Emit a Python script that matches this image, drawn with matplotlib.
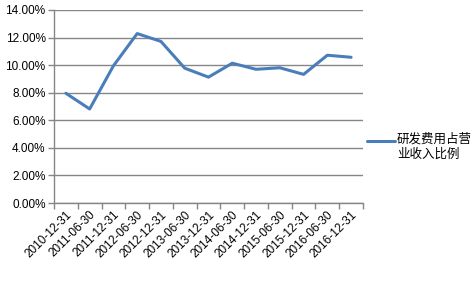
import matplotlib
matplotlib.use("Agg")
import matplotlib.pyplot as plt
from matplotlib.ticker import FuncFormatter, MultipleLocator
from matplotlib.legend_handler import HandlerLine2D

categories = ["2010-12-31", "2011-06-30", "2011-12-31", "2012-06-30", "2012-12-31",
              "2013-06-30", "2013-12-31", "2014-06-30", "2014-12-31", "2015-06-30",
              "2015-12-31", "2016-06-30", "2016-12-31"]
values = [7.96, 6.82, 9.95, 12.29, 11.72, 9.78, 9.13, 10.14, 9.70, 9.81, 9.33, 10.72, 10.57]
series_name = "研发费用占营\n业收入比例"

plt.rcParams['font.family'] = ['Liberation Sans', 'Noto Sans CJK SC', 'DejaVu Sans']

fig = plt.figure(figsize=(4.73, 2.81), dpi=100)
ax = fig.add_axes([54/473, 1-203/281, (363-54)/473, (203-10)/281])

x = list(range(len(categories)))
line, = ax.plot(x, values, color='#4a7ebb', lw=2.2, solid_capstyle='round', label=series_name)

ax.set_xlim(-0.5, len(categories)-0.5)
ax.set_ylim(0, 14)
ax.yaxis.set_major_locator(MultipleLocator(2))
ax.yaxis.set_major_formatter(FuncFormatter(lambda v, p: f"{v:.2f}%"))
ax.grid(axis='y', color='#868686', lw=1)
ax.set_axisbelow(True)
for s in ['top', 'right']:
    ax.spines[s].set_visible(False)
for s in ['left', 'bottom']:
    ax.spines[s].set_color('#868686')
    ax.spines[s].set_linewidth(1)

ax.set_xticks(x)
ax.set_xticklabels(categories, rotation=45, ha='right', rotation_mode='anchor', fontsize=8.5)
ax.tick_params(axis='x', length=0, pad=4)
ax.set_xticks([i-0.5 for i in range(len(categories)+1)], minor=True)
ax.tick_params(axis='x', which='minor', length=4, color='#868686', width=1)
ax.tick_params(axis='y', length=4, color='#868686', width=1, labelsize=8.5, pad=2)


class TopHandler(HandlerLine2D):
    def create_artists(self, legend, orig_handle, xdescent, ydescent, width, height, fontsize, trans):
        arts = super().create_artists(legend, orig_handle, xdescent, ydescent, width, height, fontsize, trans)
        for a in arts:
            yd = a.get_ydata()
            a.set_ydata([v + fontsize * 0.55 for v in yd])
        return arts


leg = fig.legend(handles=[line], labels=[series_name], loc='upper left',
                 bbox_to_anchor=(367/473, 1-133/281), frameon=False,
                 prop={'family': ['Noto Sans CJK SC', 'DejaVu Sans'], 'size': 9},
                 handlelength=2.2, handletextpad=0.2, borderaxespad=0, borderpad=0,
                 handler_map={line: TopHandler()})

fig.savefig("out.png", dpi=100)
